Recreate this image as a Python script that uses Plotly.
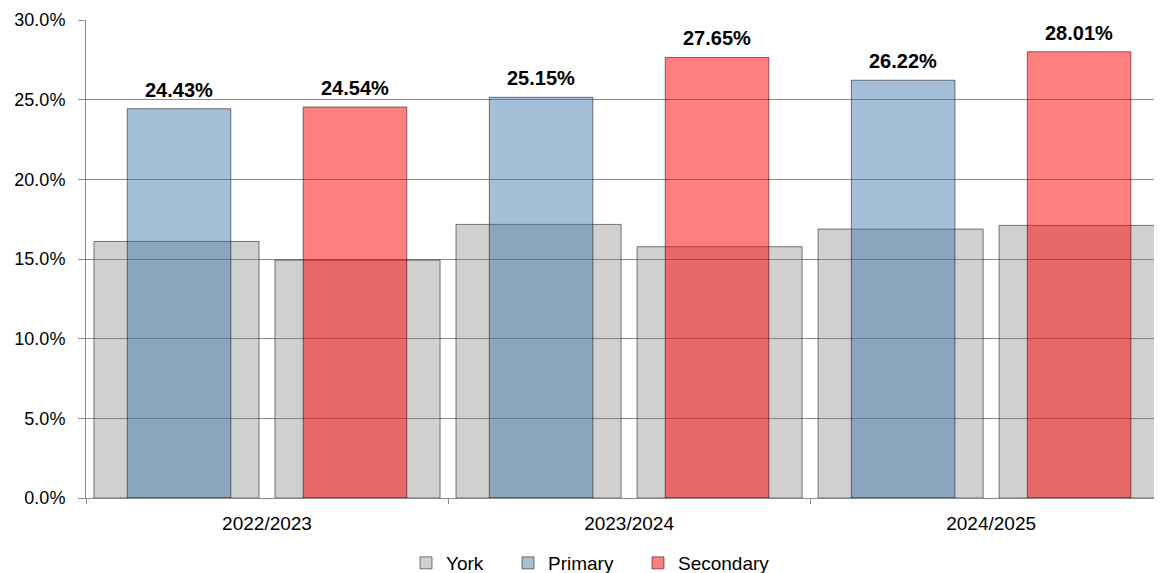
import plotly.graph_objects as go

years = ["2022/2023", "2023/2024", "2024/2025"]
york_vs_primary = [16.10, 17.17, 16.88]
york_vs_secondary = [14.93, 15.77, 17.11]
primary = [24.43, 25.15, 26.22]
secondary = [24.54, 27.65, 28.01]

FONT = "Arial, Liberation Sans, sans-serif"
GRID = "#8a8a8a"
EDGE = dict(color="rgba(0,0,0,0.5)", width=1)

# bar geometry in category units
york_w, col_w = 0.456, 0.286
york_shift, col_shift = 0.25, 0.243

fig = go.Figure()
fig.add_trace(go.Bar(
    x=years, y=york_vs_primary, name="York", legendgroup="york", legend="legend",
    width=york_w, offset=-york_shift - york_w / 2,
    marker=dict(color="rgba(128,128,128,0.37)", line=EDGE),
))
fig.add_trace(go.Bar(
    x=years, y=york_vs_secondary, name="York", legendgroup="york", showlegend=False,
    width=york_w, offset=york_shift - york_w / 2,
    marker=dict(color="rgba(128,128,128,0.37)", line=EDGE),
))
fig.add_trace(go.Bar(
    x=years, y=primary, name="Primary", legend="legend2",
    width=col_w, offset=-col_shift - col_w / 2,
    marker=dict(color="rgba(56,112,170,0.45)", line=EDGE),
))
fig.add_trace(go.Bar(
    x=years, y=secondary, name="Secondary", legend="legend3",
    width=col_w, offset=col_shift - col_w / 2,
    marker=dict(color="rgba(255,0,0,0.5)", line=EDGE),
))

# value labels over the coloured bars
for vals, shift in [(primary, -col_shift), (secondary, col_shift)]:
    for i, v in enumerate(vals):
        fig.add_annotation(
            x=i + shift, y=v, text=f"<b>{v:.2f}%</b>", showarrow=False,
            yanchor="bottom", yshift=6,
            font=dict(family=FONT, size=20, color="black"),
        )

leg = dict(orientation="h", xanchor="left", yref="container", y=0.0177, yanchor="middle",
           font=dict(size=19), bgcolor="rgba(0,0,0,0)")

fig.update_layout(
    width=1154, height=565,
    margin=dict(l=78, r=0, t=12, b=75),
    barmode="overlay",
    plot_bgcolor="white", paper_bgcolor="white",
    font=dict(family=FONT, size=18, color="black"),
    legend=dict(leg, x=0.2974),
    legend2=dict(leg, x=0.3922),
    legend3=dict(leg, x=0.5130),
    xaxis=dict(type="category", range=[-0.5, 2.472], tickson="boundaries",
               ticks="outside", ticklen=5, tickcolor=GRID, ticklabelstandoff=8,
               tickfont=dict(size=19),
               showline=True, linecolor=GRID, showgrid=False),
    yaxis=dict(range=[0, 30], dtick=5, tickformat=".1f", ticksuffix="%",
               gridcolor=GRID, zeroline=False, showline=True, linecolor=GRID,
               ticks="outside", ticklen=7, tickcolor=GRID, ticklabelstandoff=9),
)

fig.write_html("out.html")
